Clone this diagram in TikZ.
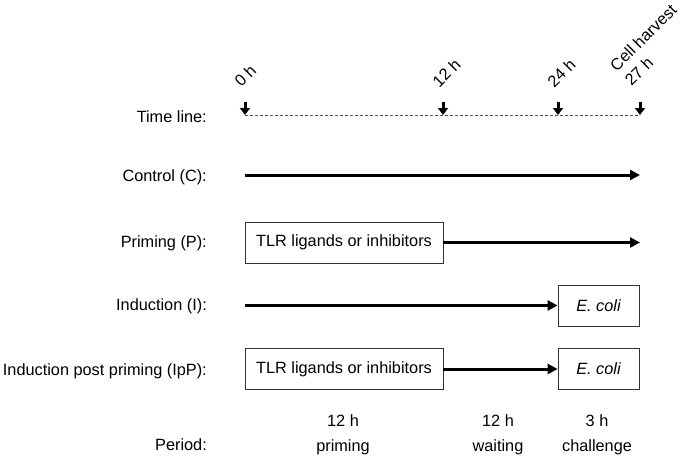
\documentclass[tikz,border=0pt]{standalone}
\usepackage{fontspec}
\setmainfont{Liberation Sans}
\usetikzlibrary{arrows.meta}
\begin{document}
\begin{tikzpicture}[x=1pt,y=-1pt,
  every node/.style={font=\fontsize{16.3}{19.5}\selectfont, inner sep=0pt},
  rowlabel/.style={anchor=east},
  tick/.style={anchor=west, rotate=45},
  flow/.style={line width=3pt, -{Triangle[length=10pt,width=10pt]}},
  timemark/.style={line width=3pt, -{Triangle[length=7pt,width=10pt]}},
  stagebox/.style={draw=black!80, line width=0.8pt, minimum height=41pt, align=center},
  period/.style={align=center}
]
\useasboundingbox (0,0) rectangle (699,458);
% row labels
\node[rowlabel] (lt) at (207,117) {Time line:};
\node[rowlabel] (lc) at (207,177) {Control (C):};
\node[rowlabel] (lp) at (207,243) {Priming (P):};
\node[rowlabel] (li) at (207,306) {Induction (I):};
\node[rowlabel] (lipp) at (207,371) {Induction post priming (IpP):};
\node[rowlabel] (lper) at (207,445) {Period:};
% time line
\coordinate (t0) at (245,115);
\coordinate (t12) at (443,115);
\coordinate (t24) at (558,115);
\coordinate (t27) at (640,115);
\coordinate (t0u) at (245,102);
\coordinate (t12u) at (443,102);
\coordinate (t24u) at (558,102);
\coordinate (t27u) at (640,102);
\draw[black!70, line width=0.7pt, dash pattern=on 3pt off 2pt] (t0) -- (t27);
\draw[timemark] (t0u) -- (t0);
\draw[timemark] (t12u) -- (t12);
\draw[timemark] (t24u) -- (t24);
\draw[timemark] (t27u) -- (t27);
\node[tick] (h0) at (237,84) {0 h};
\node[tick] (h12) at (435,84) {12 h};
\node[tick] (h24) at (550,84) {24 h};
\node[tick, align=left, font=\fontsize{16.3}{21}\selectfont] (h27) at (620,75.5) {Cell harvest\\27 h};
% control
\coordinate (c0) at (245,175);
\coordinate (c1) at (640,175);
\draw[flow] (c0) -- (c1);
% priming
\node[stagebox, minimum width=198pt] (pbox) at (344,242.5) {TLR ligands or inhibitors};
\coordinate (p1) at (640,242.5);
\draw[flow] (pbox.east) -- (p1);
% induction
\coordinate (i0) at (245,305.5);
\node[stagebox, minimum width=81pt] (ibox) at (598.5,305.5) {\itshape E. coli};
\draw[flow] (i0) -- (ibox.west);
% induction post priming
\node[stagebox, minimum width=198pt] (ppbox) at (344,369) {TLR ligands or inhibitors};
\node[stagebox, minimum width=81pt] (pibox) at (598.5,369) {\itshape E. coli};
\draw[flow] (ppbox.east) -- (pibox.west);
% periods
\node[period] (per1) at (343,435) {12 h\\[5pt]priming};
\node[period] (per2) at (498,435) {12 h\\[5pt]waiting};
\node[period] (per3) at (597,435) {3 h\\[5pt]challenge};
\end{tikzpicture}
\end{document}
